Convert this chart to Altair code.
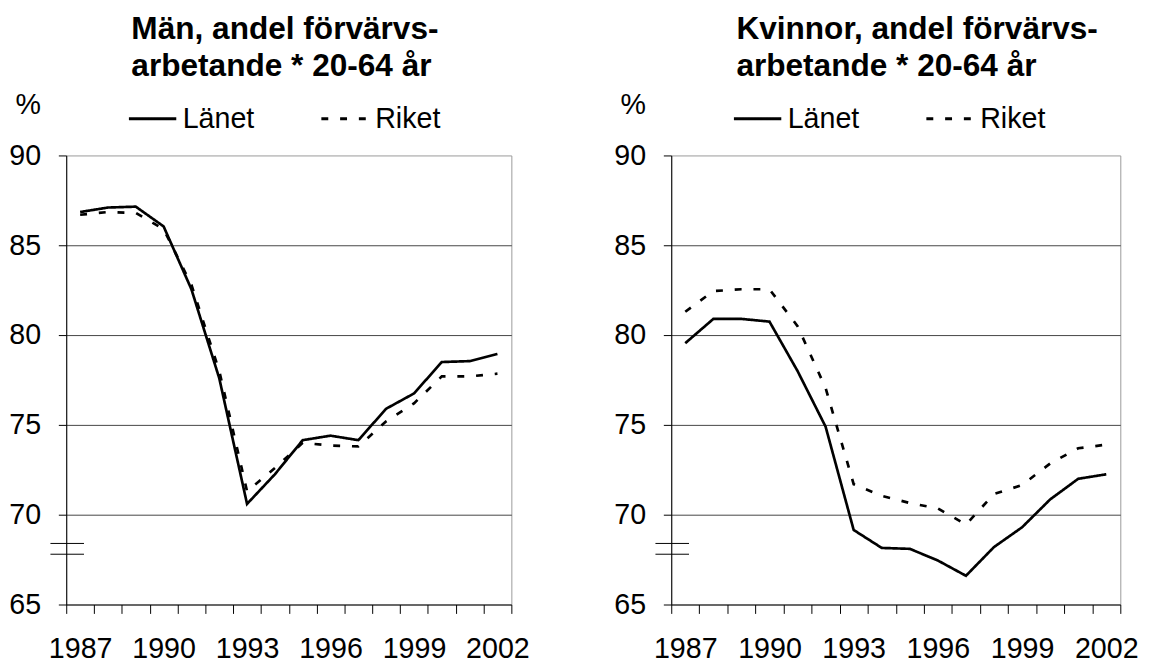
import altair as alt
import pandas as pd

years = list(range(1987, 2003))
series_names = ["Länet", "Riket"]

men_lanet = [86.85, 87.1, 87.15, 86.05, 82.55, 77.6, 70.6, 72.25, 74.15, 74.4, 74.15, 75.9, 76.75, 78.5, 78.55, 78.95]
men_riket = [86.7, 86.85, 86.8, 85.9, 82.8, 78.0, 71.3, 72.6, 74.0, 73.85, 73.8, 75.2, 76.2, 77.7, 77.7, 77.85]
women_lanet = [79.55, 80.9, 80.9, 80.75, 78.0, 74.9, 69.15, 68.15, 68.1, 67.45, 66.6, 68.2, 69.3, 70.85, 72.0, 72.25]
women_riket = [81.3, 82.45, 82.55, 82.55, 80.5, 77.05, 71.7, 71.05, 70.65, 70.35, 69.45, 71.15, 71.65, 72.85, 73.7, 73.9]

title_men = ["Män, andel förvärvs-", "arbetande * 20-64 år"]
title_women = ["Kvinnor, andel förvärvs-", "arbetande * 20-64 år"]

y_ticks = [65, 70, 75, 80, 85, 90]
x_label_years = [1987, 1990, 1993, 1996, 1999, 2002]
break_values = [68.4, 67.8]

FONT = "Liberation Sans"


def make_df(lanet, riket):
    rows = []
    for name, vals in zip(series_names, [lanet, riket]):
        for yr, v in zip(years, vals):
            rows.append({"year": yr, "value": v, "serie": name})
    return pd.DataFrame(rows)


def panel(lanet, riket, title, width, height):
    df = make_df(lanet, riket)
    half = width / len(years) / 2.0
    x_scale = alt.Scale(domain=[years[0] - 0.5, years[-1] + 0.5], nice=False, zero=False)
    y_scale = alt.Scale(domain=[y_ticks[0], y_ticks[-1]], nice=False, zero=False)
    label_list = ",".join(str(v) for v in x_label_years)
    x_axis = alt.Axis(
        values=[years[0] - 0.5 + i for i in range(len(years) + 1)],
        labelExpr=f"indexof([{label_list}], datum.value + 0.5) >= 0 ? format(datum.value + 0.5, 'd') : ''",
        labelOffset=half,
        labelFlush=False,
        labelOverlap=False,
        labelFontSize=29,
        labelColor="black",
        labelPadding=22,
        tickSize=9,
        tickColor="black",
        domainColor="black",
        grid=False,
        title=None,
    )
    y_axis = alt.Axis(
        values=y_ticks,
        title="%",
        titleAngle=0,
        titleAlign="center",
        titleBaseline="alphabetic",
        titleX=-39,
        titleY=-42,
        titleFontSize=29,
        titleFontWeight="normal",
        titleColor="black",
        labelFontSize=29,
        labelColor="black",
        labelPadding=18,
        tickSize=8,
        tickColor="black",
        domainColor="black",
        grid=True,
        gridColor="#444444",
        gridOpacity={"condition": {"test": "datum.value >= 90 || datum.value <= 65", "value": 0}, "value": 1},
    )
    lines = alt.Chart(df).mark_line(color="black", strokeWidth=2.7).encode(
        x=alt.X("year:Q", scale=x_scale, axis=x_axis),
        y=alt.Y("value:Q", scale=y_scale, axis=y_axis),
        strokeDash=alt.StrokeDash(
            "serie:N",
            scale=alt.Scale(domain=series_names, range=[[1, 0], [7, 12]]),
            legend=alt.Legend(
                title=None,
                orient="none",
                legendX=62,
                legendY=-63,
                direction="horizontal",
                symbolType="stroke",
                symbolSize=2304,
                symbolStrokeWidth=3,
                symbolStrokeColor="black",
                labelFontSize=29,
                labelColor="black",
                labelOffset=5,
                columnPadding=61,
                labelLimit=0,
            ),
        ),
    )
    brk = alt.Chart(pd.DataFrame({"b": break_values})).mark_rule(color="black", strokeWidth=1).encode(
        y=alt.Y("b:Q", scale=y_scale),
        x=alt.value(-16),
        x2=alt.value(18),
    )
    return alt.layer(lines, brk).properties(
        width=width,
        height=height,
        title=alt.TitleParams(
            text=title,
            anchor="start",
            frame="group",
            dx=66,
            fontSize=32,
            fontWeight="bold",
            lineHeight=38,
            color="black",
            offset=8,
        ),
    )


left = panel(men_lanet, men_riket, title_men, 451, 455)
right = panel(women_lanet, women_riket, title_women, 455, 455)

chart = alt.hconcat(left, right, spacing=162, bounds="flush", padding={"left": 0, "top": 0, "right": 5, "bottom": 5}).resolve_legend(
    strokeDash="independent"
).resolve_scale(strokeDash="independent").configure(font=FONT).configure_view(stroke="#999999", strokeWidth=1)

chart.save("out.html", embed_options={"renderer": "svg", "actions": False})
